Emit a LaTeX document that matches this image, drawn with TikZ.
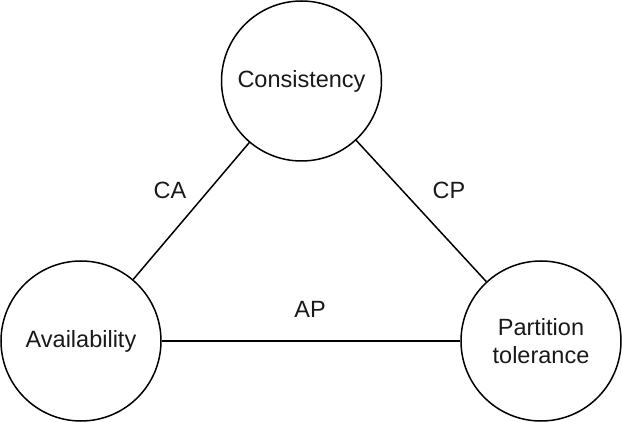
\documentclass[tikz,border=0pt]{standalone}
\usepackage{fontspec}
\setmainfont{Liberation Sans}
\begin{document}
\begin{tikzpicture}[x=1pt,y=-1pt,
  every node/.style={font=\fontsize{23.5}{28}\selectfont, text=black!90},
  vertex/.style={circle, draw=black, line width=1.5pt, minimum size=160pt, inner sep=0pt, align=center},
  link/.style={line width=1.5pt},
  lbl/.style={inner sep=0pt}]
\useasboundingbox (0,0) rectangle (622,422);
\node[vertex] (C) at (301.5,81) {Consistency};
\node[vertex] (A) at (81,341) {Availability};
\node[vertex] (P) at (541,341) {Partition\\tolerance};
\draw[link] (C) -- (A);
\draw[link] (C) -- (P);
\draw[link] (A) -- (P);
\node[lbl] (ca) at (170,190) {CA};
\node[lbl] (cp) at (449,190) {CP};
\node[lbl] (ap) at (310,309) {AP};
\end{tikzpicture}
\end{document}
